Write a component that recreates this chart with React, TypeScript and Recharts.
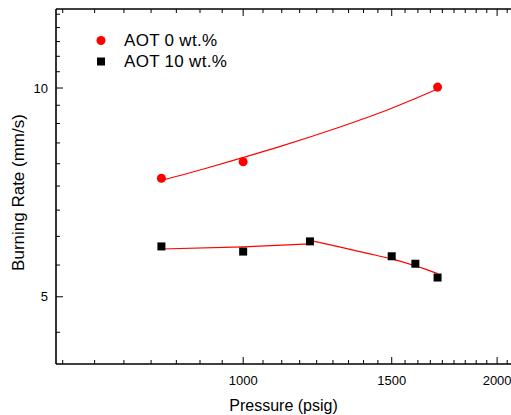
import React from 'react';
import { ComposedChart, Scatter, Line, XAxis, YAxis, Legend } from 'recharts';

// ---- data ----
const pressureAOT0 = [800, 1000, 1700];
const rateAOT0 = [7.41, 7.83, 10.03];
const pressureAOT10 = [800, 1000, 1200, 1500, 1600, 1700];
const rateAOT10 = [5.91, 5.81, 6.01, 5.72, 5.58, 5.33];

const fitAOT0Pressure = [800, 900, 1000, 1100, 1200, 1300, 1400, 1500, 1600, 1700];
const fitAOT0Rate = [7.36, 7.65, 7.94, 8.22, 8.5, 8.78, 9.06, 9.35, 9.66, 9.97];
const fitAOT10LowPressure = [800, 1000, 1200];
const fitAOT10LowRate = [5.86, 5.9, 5.96];
const fitAOT10HighPressure = [1200, 1300, 1400, 1500, 1600, 1700];
const fitAOT10HighRate = [6.03, 5.9, 5.78, 5.67, 5.54, 5.4];

const xMajorTicks = [1000, 1500, 2000];
const xMinorTicks = [
  611.1, 666.7, 722.2, 777.8, 833.3, 888.9, 944.4,
  1055.6, 1111.1, 1166.7, 1222.2, 1277.8, 1333.3, 1388.9, 1444.4,
  1555.6, 1611.1, 1666.7, 1722.2, 1777.8, 1833.3, 1888.9, 1944.4, 2055.6,
];
const yMajorTicks = [5, 10];
const yMinorTicks = [4.444, 5.556, 6.111, 6.667, 7.222, 7.778, 8.333, 8.889, 9.444, 10.556, 11.111, 11.667, 12.222, 12.778];

const seriesNames = ['AOT 0 wt.%', 'AOT 10 wt.%'];
const xTitle = 'Pressure (psig)';
const yTitle = 'Burning Rate (mm/s)';

const xDomain: [number, number] = [600, 2100];
const yDomain: [number, number] = [4, 13];

const toPoints = (xs: number[], ys: number[]) => xs.map((x, i) => ({ x, y: ys[i] }));

const FONT = '"Liberation Sans", Arial, sans-serif';
const MAJOR_LEN = 7;
const MINOR_LEN = 4;

function BottomTick(props: any) {
  const { x, y, payload } = props;
  const major = xMajorTicks.includes(payload.value);
  return (
    <g>
      <line x1={x} x2={x} y1={y} y2={y - (major ? MAJOR_LEN : MINOR_LEN)} stroke="#000" strokeWidth={1} />
      {major && (
        <text x={x} y={y + 21} textAnchor="middle" fontSize={13} fontFamily={FONT} fill="#000">
          {payload.value}
        </text>
      )}
    </g>
  );
}

function TopTick(props: any) {
  const { x, y, payload } = props;
  const major = xMajorTicks.includes(payload.value);
  return <line x1={x} x2={x} y1={y} y2={y + (major ? MAJOR_LEN : MINOR_LEN)} stroke="#000" strokeWidth={1} />;
}

function LeftTick(props: any) {
  const { x, y, payload } = props;
  const major = yMajorTicks.includes(payload.value);
  return (
    <g>
      <line x1={x} x2={x + (major ? MAJOR_LEN : MINOR_LEN)} y1={y} y2={y} stroke="#000" strokeWidth={1} />
      {major && (
        <text x={x - 8} y={y + 4.6} textAnchor="end" fontSize={13} fontFamily={FONT} fill="#000">
          {payload.value}
        </text>
      )}
    </g>
  );
}

function XTitle(props: any) {
  const vb = props.viewBox || {};
  return (
    <text x={vb.x + vb.width / 2 - 2} y={vb.y + 47} textAnchor="middle" fontSize={16} fontFamily={FONT} fill="#000">
      {xTitle}
    </text>
  );
}

function YTitle(props: any) {
  const vb = props.viewBox || {};
  const cy = vb.y + vb.height / 2 + 6;
  return (
    <text transform={`translate(16, ${cy}) rotate(-90)`} textAnchor="middle" fontSize={17} fontFamily={FONT} fill="#000">
      {yTitle}
    </text>
  );
}

function LegendContent(props: any) {
  const payload = (props.payload || []).filter((e: any) => e.type !== 'none');
  return (
    <div style={{ fontFamily: FONT, fontSize: 17, color: '#000' }}>
      {payload.map((entry: any, i: number) => (
        <div key={i} style={{ display: 'flex', alignItems: 'center', height: 21 }}>
          <svg width={32} height={21} style={{ flex: 'none' }}>
            {entry.type === 'square' ? (
              <rect x={5} y={6.5} width={8} height={8} fill={entry.color} />
            ) : (
              <circle cx={9} cy={10.5} r={4.5} fill={entry.color} />
            )}
          </svg>
          <span style={{ lineHeight: '21px', whiteSpace: 'nowrap', letterSpacing: 0.3 }}>{entry.value}</span>
        </div>
      ))}
    </div>
  );
}

export default function App() {
  const xTicks = [...xMinorTicks, ...xMajorTicks];
  const yTicks = [...yMinorTicks, ...yMajorTicks];
  return (
    <div style={{ position: 'absolute', left: 0, top: 0, width: 511, height: 415, overflow: 'hidden', background: '#fff' }}>
      <div style={{ position: 'absolute', left: 8, top: 8 }}>
        <ComposedChart width={520} height={407} margin={{ top: 0, right: 13, bottom: 0, left: 0 }}>
          <XAxis
            dataKey="x"
            type="number"
            scale="log"
            domain={xDomain}
            allowDataOverflow
            ticks={xTicks}
            interval={0}
            tickSize={0}
            tickMargin={0}
            tickLine={false}
            tick={<BottomTick />}
            axisLine={{ stroke: '#000', strokeWidth: 1.6 }}
            height={51}
            label={XTitle}
          />
          <XAxis
            xAxisId="top"
            orientation="top"
            dataKey="x"
            type="number"
            scale="log"
            domain={xDomain}
            allowDataOverflow
            ticks={xTicks}
            interval={0}
            tickSize={0}
            tickMargin={0}
            tickLine={false}
            tick={<TopTick />}
            axisLine={{ stroke: '#000', strokeWidth: 1.6 }}
            height={1}
          />
          <YAxis
            dataKey="y"
            type="number"
            scale="log"
            domain={yDomain}
            allowDataOverflow
            ticks={yTicks}
            interval={0}
            tickSize={0}
            tickMargin={0}
            tickLine={false}
            tick={<LeftTick />}
            axisLine={{ stroke: '#000', strokeWidth: 1.6 }}
            width={48}
            label={YTitle}
          />
          <Legend
            layout="vertical"
            align="center"
            verticalAlign="middle"
            content={<LegendContent />}
            wrapperStyle={{ left: 84, top: 21.5, width: 220, height: 42 }}
          />
          <Scatter
            name={seriesNames[0]}
            data={toPoints(pressureAOT0, rateAOT0)}
            fill="#ff0000"
            shape="circle"
            legendType="circle"
            isAnimationActive={false}
          />
          <Scatter
            name={seriesNames[1]}
            data={toPoints(pressureAOT10, rateAOT10)}
            fill="#000000"
            shape="square"
            legendType="square"
            isAnimationActive={false}
          />
          <Line
            data={toPoints(fitAOT0Pressure, fitAOT0Rate)}
            dataKey="y"
            type="monotone"
            stroke="#ff0000"
            strokeWidth={1.2}
            dot={false}
            activeDot={false}
            legendType="none"
            isAnimationActive={false}
          />
          <Line
            data={toPoints(fitAOT10LowPressure, fitAOT10LowRate)}
            dataKey="y"
            type="linear"
            stroke="#ff0000"
            strokeWidth={1.2}
            dot={false}
            activeDot={false}
            legendType="none"
            isAnimationActive={false}
          />
          <Line
            data={toPoints(fitAOT10HighPressure, fitAOT10HighRate)}
            dataKey="y"
            type="monotone"
            stroke="#ff0000"
            strokeWidth={1.2}
            dot={false}
            activeDot={false}
            legendType="none"
            isAnimationActive={false}
          />
        </ComposedChart>
      </div>
    </div>
  );
}
